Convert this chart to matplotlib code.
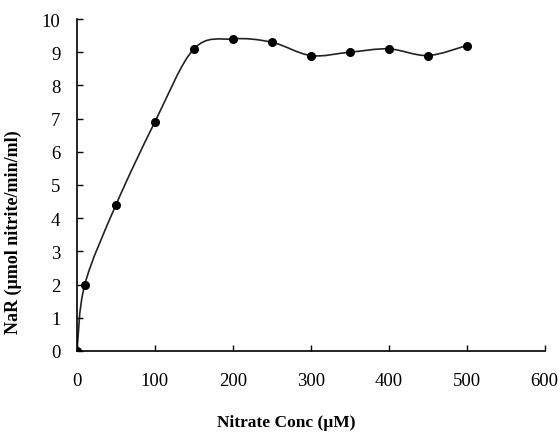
import numpy as np
import matplotlib
matplotlib.use("Agg")
import matplotlib.pyplot as plt
from matplotlib.path import Path
from matplotlib.patches import PathPatch

conc = [0, 10, 50, 100, 150, 200, 250, 300, 350, 400, 450, 500]
nar = [0, 2.0, 4.4, 6.9, 9.1, 9.4, 9.3, 8.9, 9.0, 9.1, 8.9, 9.2]


def smooth_path(xs, ys):
    # Excel style smoothed line: Catmull-Rom segments as cubic Beziers
    pts = np.column_stack([xs, ys]).astype(float)
    n = len(pts)
    verts = [pts[0]]
    codes = [Path.MOVETO]
    for i in range(n - 1):
        p0 = pts[i - 1] if i > 0 else pts[i]
        p1 = pts[i]
        p2 = pts[i + 1]
        p3 = pts[i + 2] if i + 2 < n else pts[i + 1]
        c1 = p1 + (p2 - p0) / 6
        c2 = p2 - (p3 - p1) / 6
        verts += [c1, c2, p2]
        codes += [Path.CURVE4] * 3
    return Path(verts, codes)


plt.rcParams['font.family'] = ['Liberation Serif']

fig = plt.figure(figsize=(5.6, 4.35), dpi=100)
ax = fig.add_axes([0.1375, 0.191, 0.835, 0.763])

ax.add_patch(PathPatch(smooth_path(conc, nar), facecolor='none', edgecolor='#222222', lw=1.2))
ax.plot(conc, nar, 'o', color='black', ms=5.5)

ax.set_xlim(0, 600)
ax.set_ylim(0, 10)
ax.set_xticks(range(0, 601, 100))
ax.set_yticks(range(0, 11))
ax.spines['top'].set_visible(False)
ax.spines['right'].set_visible(False)
for s in ('left', 'bottom'):
    ax.spines[s].set_linewidth(1.2)
ax.tick_params(direction='in', length=4, width=1, labelsize=13.5)
ax.tick_params(axis='y', pad=12)
ax.tick_params(axis='x', pad=15)

ax.set_xlabel('Nitrate Conc (\u00b5M)', fontsize=12.5, fontweight='bold')
ax.set_ylabel('NaR (\u00b5mol nitrite/min/ml)', fontsize=13, fontweight='bold')
ax.xaxis.set_label_coords(0.448, -0.19)
ax.yaxis.set_label_coords(-0.117, 0.361)

fig.savefig('out.png', dpi=100)
